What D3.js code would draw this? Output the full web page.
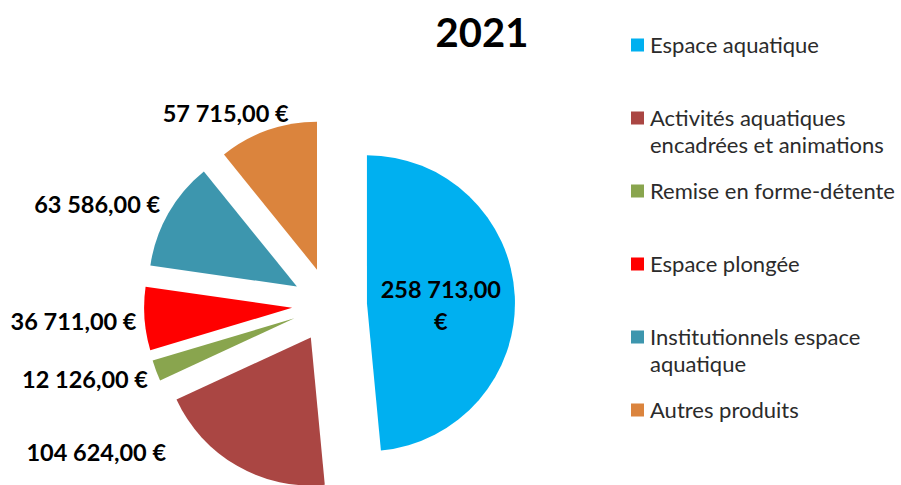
<!DOCTYPE html>
<html>
<head>
<meta charset="utf-8">
<script src="https://cdn.jsdelivr.net/npm/d3@7"></script>
<style>
  html, body { margin: 0; padding: 0; background: #fff; }
  svg { display: block; }
  text { font-family: Lato, "Open Sans", sans-serif; }
</style>
</head>
<body>
<svg id="chart" width="901" height="485"></svg>
<script>
// ---- data ----
const title = "2021";
const categories = [
  "Espace aquatique",
  "Activités aquatiques encadrées et animations",
  "Remise en forme-détente",
  "Espace plongée",
  "Institutionnels espace aquatique",
  "Autres produits"
];
const legendLines = [
  ["Espace aquatique"],
  ["Activités aquatiques", "encadrées et animations"],
  ["Remise en forme-détente"],
  ["Espace plongée"],
  ["Institutionnels espace", "aquatique"],
  ["Autres produits"]
];
const values = [258713, 104624, 12126, 36711, 63586, 57715];
const colors = ["#00B0F0", "#AA4643", "#89A54E", "#FF0000", "#3D96AE", "#DB843D"];

// ---- layout ----
const W = 901, H = 485;
const cx = 329.5, cy = 305, R = 148, explode = 37.5;
// label placement tweaks (layout only): [anchor, dx, dy]
const labelNudge = [
  null,
  ["end", -71, -13],
  ["end", -8, 9.5],
  ["end", -8, 3.5],
  ["end", -8, -9],
  ["middle", -42, -16]
];

const fmt = v => d3.format(",.2f")(v).replace(/,/g, " ").replace(".", ",") + " €";

const svg = d3.select("#chart");

svg.append("text")
  .attr("x", 482).attr("y", 47)
  .attr("text-anchor", "middle")
  .attr("font-size", 40).attr("font-weight", 700)
  .attr("fill", "#000")
  .text(title);

const pie = d3.pie().sort(null).value(d => d);
const arcs = pie(values);
const arc = d3.arc().innerRadius(0).outerRadius(R);

const g = svg.append("g").attr("transform", `translate(${cx},${cy})`);

const slices = g.selectAll("g.slice").data(arcs).enter().append("g")
  .attr("class", "slice")
  .attr("transform", d => {
    const a = (d.startAngle + d.endAngle) / 2;
    return `translate(${explode * Math.sin(a)},${-explode * Math.cos(a)})`;
  });

slices.append("path")
  .attr("d", arc)
  .attr("fill", (d, i) => colors[i]);

slices.each(function(d, i) {
  const sel = d3.select(this);
  const a = (d.startAngle + d.endAngle) / 2;
  if (i === 0) {
    const c = arc.centroid(d);
    const t = sel.append("text")
      .attr("text-anchor", "middle")
      .attr("font-size", 23.5).attr("font-weight", 700).attr("fill", "#000");
    const parts = fmt(d.data).split(" €")[0];
    t.append("tspan").attr("x", c[0]).attr("y", c[1] - 1.5).text(parts);
    t.append("tspan").attr("x", c[0]).attr("y", c[1] + 30.5).text("€");
  } else {
    const n = labelNudge[i];
    const px = (R) * Math.sin(a) + n[1];
    const py = -(R) * Math.cos(a) + n[2];
    sel.append("text")
      .attr("x", px).attr("y", py)
      .attr("dy", "0.35em")
      .attr("text-anchor", n[0])
      .attr("font-size", 23.5).attr("font-weight", 700).attr("fill", "#000")
      .text(fmt(d.data));
  }
});

// ---- legend ----
const ly = d3.scalePoint().domain(categories).range([45, 410]);
const legend = svg.append("g");
categories.forEach((c, i) => {
  const y = ly(c);
  legend.append("rect")
    .attr("x", 631).attr("y", y - 6.5)
    .attr("width", 13).attr("height", 13)
    .attr("fill", colors[i]);
  const t = legend.append("text")
    .attr("font-size", 22).attr("fill", "#2b2b2b");
  legendLines[i].forEach((line, k) => {
    t.append("tspan").attr("x", 650).attr("y", y + k * 27).attr("dy", "0.35em").text(line);
  });
});
</script>
</body>
</html>
